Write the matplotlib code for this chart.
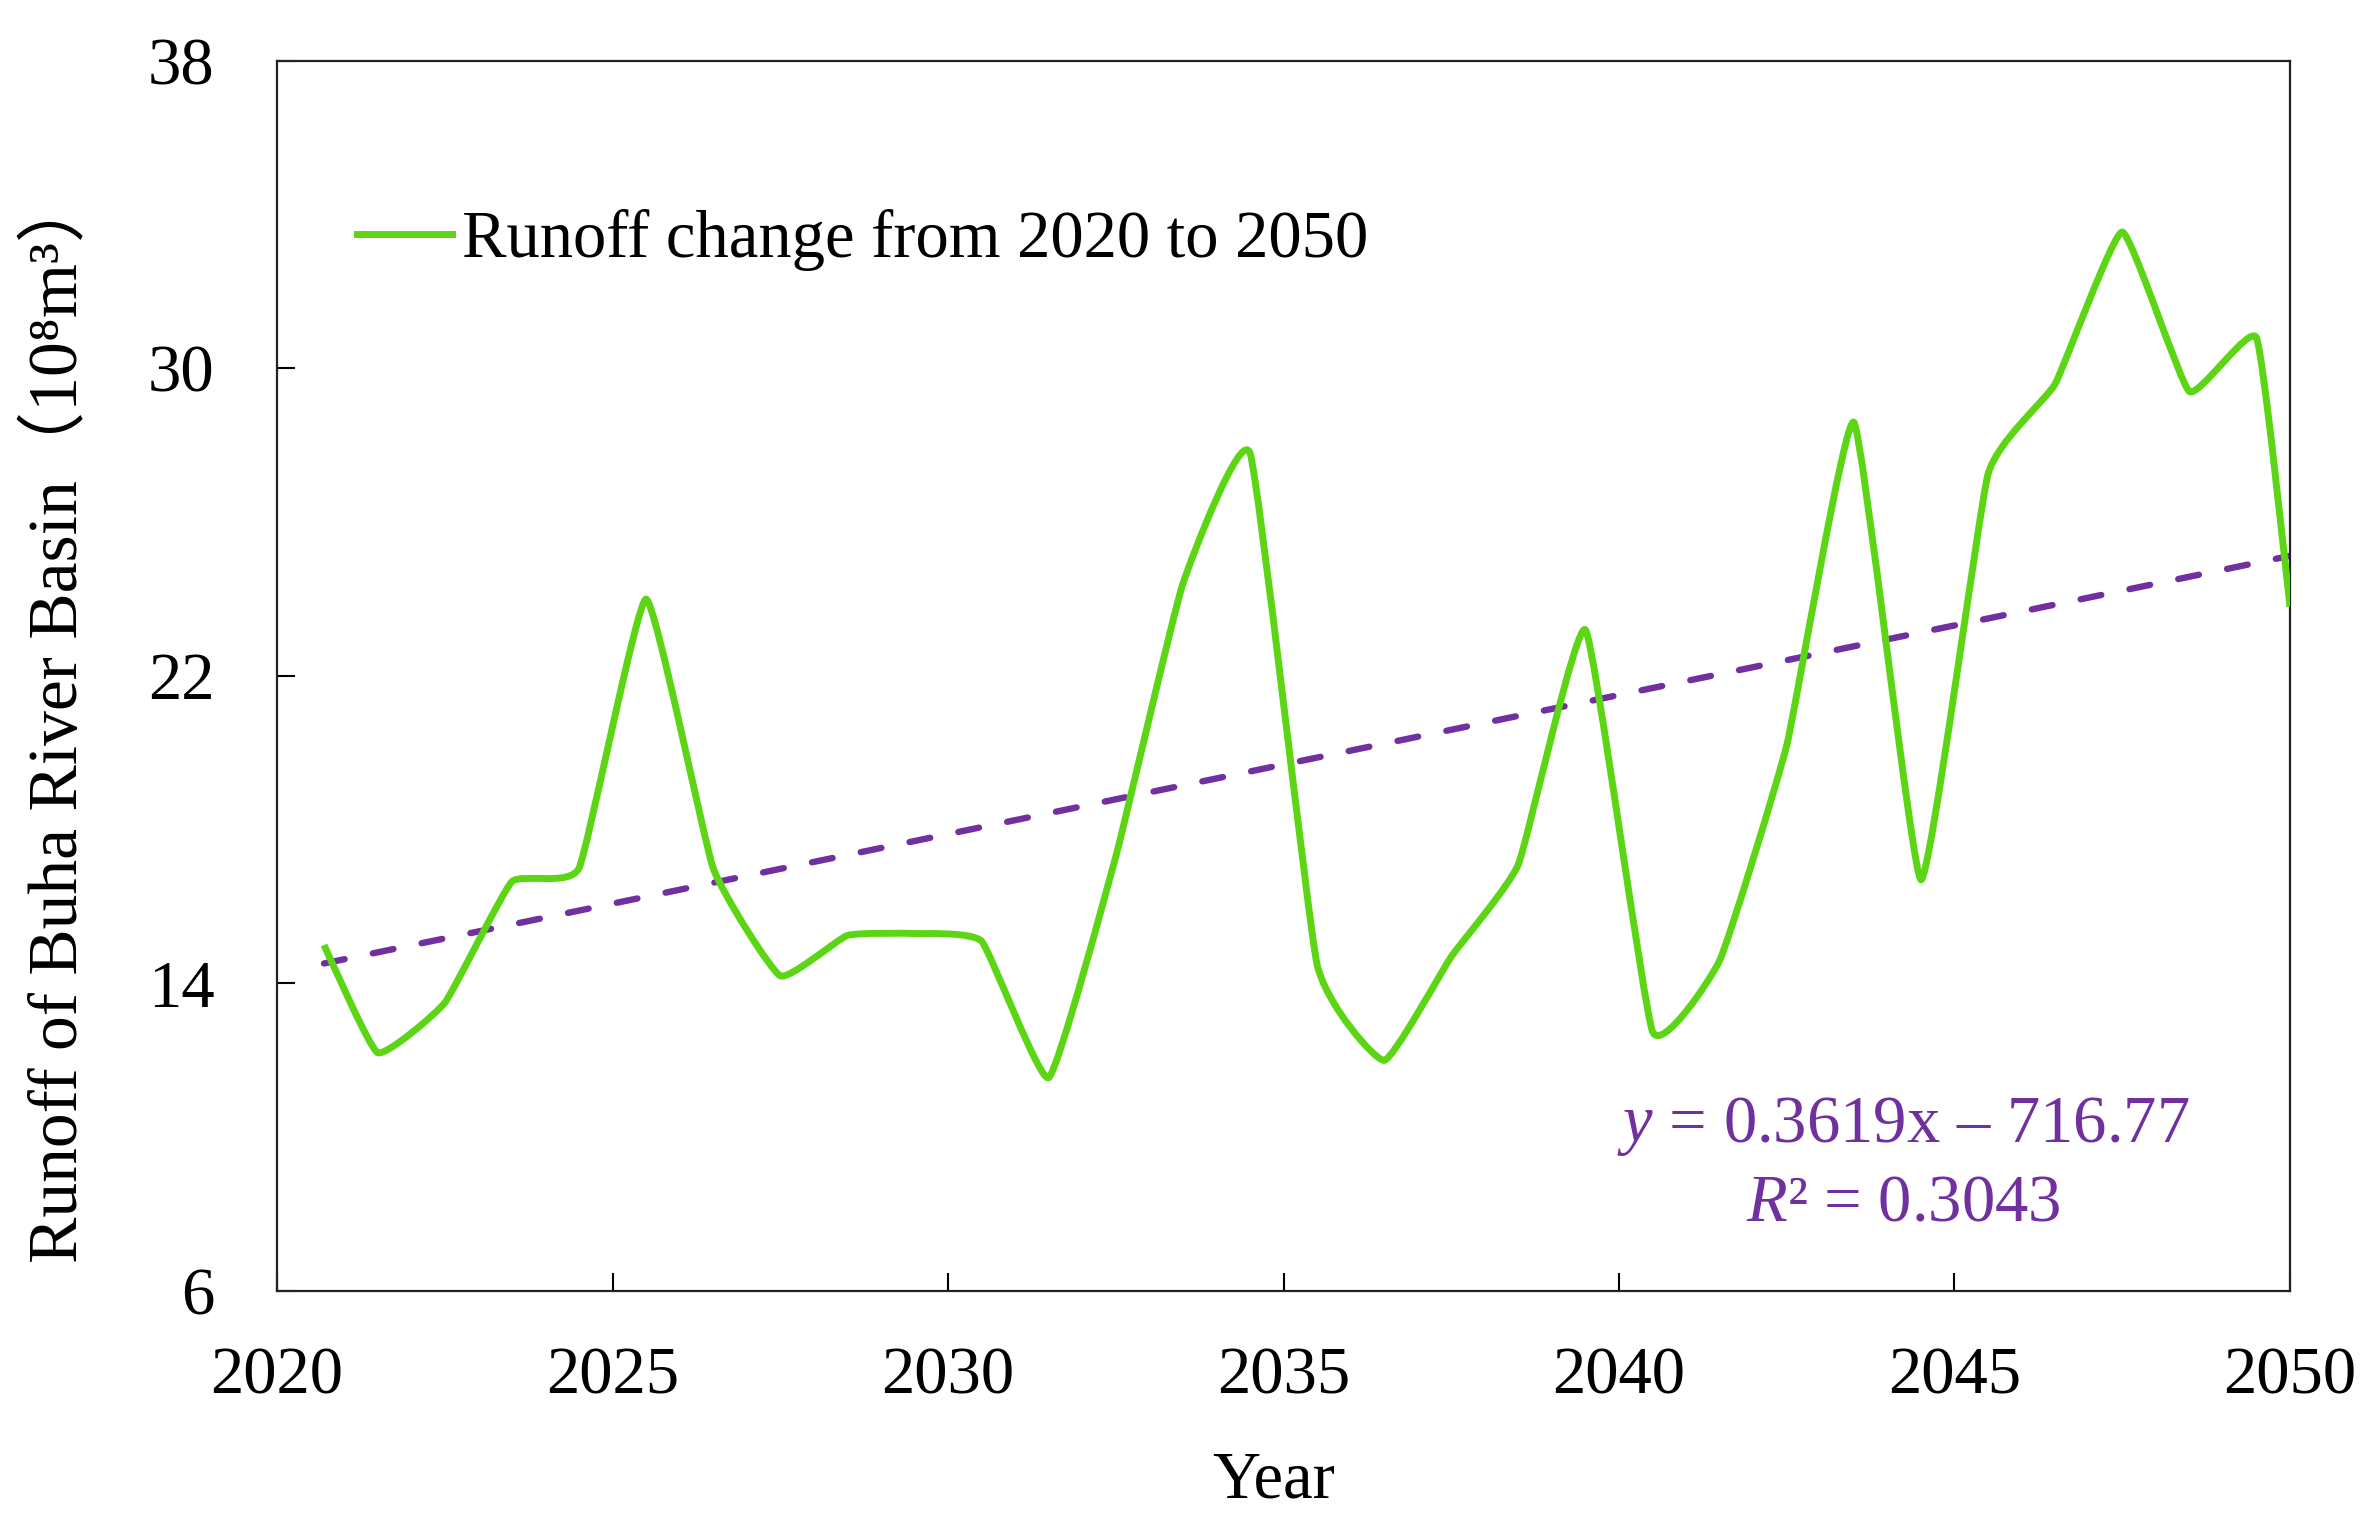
import numpy as np
import matplotlib.pyplot as plt
from matplotlib.path import Path
from matplotlib.patches import PathPatch
from matplotlib.lines import Line2D

# --------- Data ---------
years = [2020.7, 2021.5, 2022.5, 2023.5, 2024.5, 2025.5, 2026.5, 2027.5, 2028.5,
         2029.5, 2030.5, 2031.5, 2032.5, 2033.5, 2034.5, 2035.5, 2036.5, 2037.5,
         2038.5, 2039.5, 2040.5, 2041.5, 2042.5, 2043.5, 2044.5, 2045.5, 2046.5,
         2047.5, 2048.5, 2049.5, 2050.0]
runoff = [15.0, 12.2, 13.5, 16.65, 17.0, 24.0, 17.0, 14.2, 15.25,
          15.3, 15.1, 11.55, 17.3, 24.4, 27.8, 14.5, 12.0, 14.7,
          17.1, 23.2, 12.75, 14.6, 20.2, 28.6, 16.7, 27.25, 29.6,
          33.55, 29.4, 30.8, 23.8]

# linear trend reported on the chart
slope = 0.3619
intercept = -716.77
r_squared = 0.3043

x_ticks = [2020, 2025, 2030, 2035, 2040, 2045, 2050]
y_ticks = [6, 14, 22, 30, 38]

green = "#5cd614"
purple = "#7030a0"

# --------- Style ---------
plt.rcParams["font.family"] = ["Liberation Serif", "Noto Sans CJK SC"]
plt.rcParams["mathtext.fontset"] = "custom"
plt.rcParams["mathtext.rm"] = "Liberation Serif"
plt.rcParams["mathtext.it"] = "Liberation Serif:italic"
FS = 48


def smooth_path(x, y, tension=0.4):
    # lightly smoothed line: Catmull-Rom segments as cubic Bezier curves
    pts = np.column_stack([x, y])
    n = len(pts)
    verts = [pts[0]]
    codes = [Path.MOVETO]
    for i in range(n - 1):
        p0 = pts[max(i - 1, 0)]
        p1 = pts[i]
        p2 = pts[i + 1]
        p3 = pts[min(i + 2, n - 1)]
        verts += [p1 + tension * (p2 - p0) / 6,
                  p2 - tension * (p3 - p1) / 6, p2]
        codes += [Path.CURVE4] * 3
    return Path(verts, codes)


fig = plt.figure(figsize=(23.76, 15.28), dpi=100)
ax = fig.add_axes([0.1166, 0.1551, 0.8472, 0.8050])

ax.add_patch(PathPatch(smooth_path(years, runoff), fill=False, edgecolor=green,
                       lw=5, joinstyle="round", capstyle="butt", zorder=3))

xt = np.array([years[0], years[-1]])
ax.plot(xt, slope * xt + intercept, color=purple, lw=4.6,
        linestyle=(0, (3.3, 4.5)), dash_capstyle="round", zorder=2)

ax.set_xlim(2020, 2050)
ax.set_ylim(6, 38)
ax.set_xticks(x_ticks)
ax.set_yticks(y_ticks)
ax.tick_params(direction="in", length=13, width=1.5, labelsize=FS,
               top=False, right=False)
ax.tick_params(axis="x", pad=40)
ax.tick_params(axis="y", pad=45)
for sp in ax.spines.values():
    sp.set_linewidth(1.6)
    sp.set_color("#222222")

ax.set_xlabel("Year", fontsize=FS)
ax.xaxis.label.set_verticalalignment("baseline")
ax.xaxis.set_label_coords(0.495, -0.1675)

ax.set_ylabel("Runoff of Buha River Basin（10⁸m³）", fontsize=50)
ax.yaxis.label.set_verticalalignment("baseline")
ax.yaxis.set_label_coords(-0.0994, 0.466)

handle = Line2D([], [], color=green, lw=5)
ax.legend([handle], ["Runoff change from 2020 to 2050"], loc="center left",
          bbox_to_anchor=(0.0397, 0.8545), frameon=False, fontsize=FS,
          handlelength=1.42, handletextpad=0.16, borderpad=0, borderaxespad=0)

ax.text(0.8077, 0.1211, "$y$ = %.4fx – %.2f" % (slope, -intercept),
        transform=ax.transAxes, ha="center", va="baseline", color=purple, fontsize=FS)
ax.text(0.8077, 0.0577, "$R$² = %.4f" % r_squared,
        transform=ax.transAxes, ha="center", va="baseline", color=purple, fontsize=FS)

fig.savefig("out.png", dpi=100)
